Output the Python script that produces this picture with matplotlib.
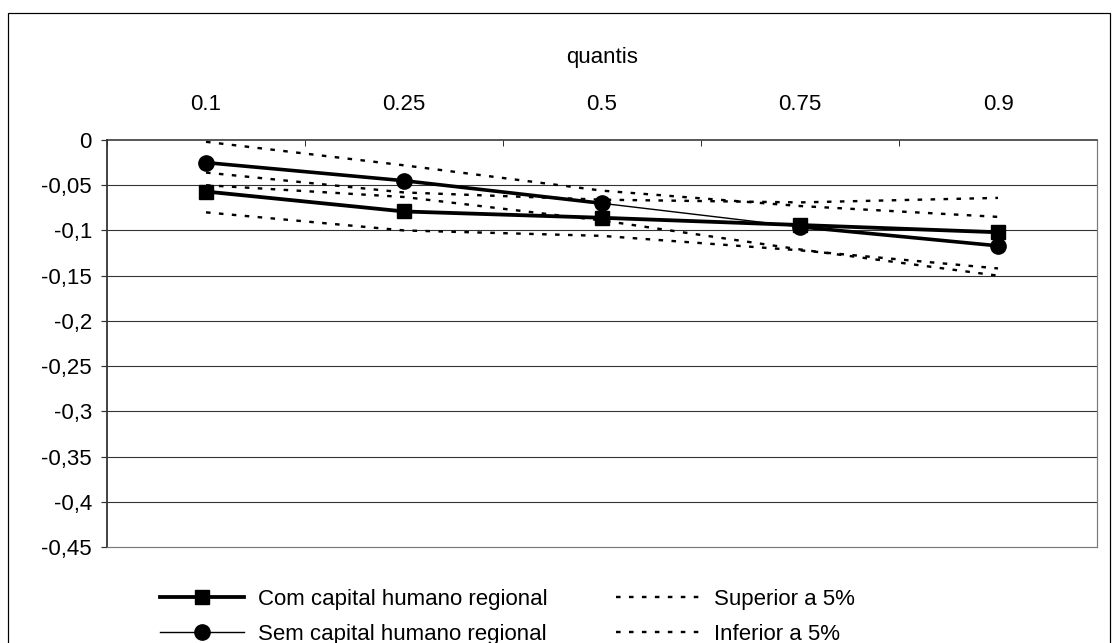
import matplotlib
matplotlib.use("Agg")
import matplotlib.pyplot as plt
from matplotlib.collections import LineCollection
from matplotlib.patches import Rectangle
import numpy as np

plt.rcParams['font.family'] = ['Liberation Sans', 'DejaVu Sans']

# Quantiles on the category axis
quantis = ["0.1", "0.25", "0.5", "0.75", "0.9"]

# Point estimates
com_capital = [-0.057, -0.079, -0.086, -0.094, -0.102]
sem_capital = [-0.025, -0.045, -0.070, -0.096, -0.117]

# 5% confidence bounds
com_superior = [-0.036, -0.058, -0.066, -0.069, -0.064]
com_inferior = [-0.080, -0.100, -0.106, -0.122, -0.142]
sem_superior = [-0.002, -0.028, -0.056, -0.073, -0.085]
sem_inferior = [-0.050, -0.063, -0.089, -0.121, -0.150]

y_ticks = [0, -0.05, -0.1, -0.15, -0.2, -0.25, -0.3, -0.35, -0.4, -0.45]
y_tick_labels = ["0", "-0,05", "-0,1", "-0,15", "-0,2", "-0,25", "-0,3",
                 "-0,35", "-0,4", "-0,45"]

W, H = 1118, 643
fig = plt.figure(figsize=(W / 100, H / 100), dpi=100)
px = 0.72  # points per pixel
FS = 16

def fx(x):
    return x / W

def fy(y):
    return 1 - y / H

ax = fig.add_axes([fx(107), fy(547), fx(1097) - fx(107), fy(140) - fy(547)])

x = np.arange(len(quantis))
ax.set_xlim(-0.5, len(quantis) - 0.5)
ax.set_ylim(-0.45, 0)

# horizontal grid
for yt in y_ticks[1:-1]:
    ax.axhline(yt, color="#333333", lw=1.1 * px, zorder=1)

# confidence bounds (dotted)
dot_lw = 2.4 * px
dot_style = (0, (1.9, 3.5))
ax.plot(x, com_superior, color="black", lw=dot_lw, linestyle=dot_style,
        dash_capstyle="butt", label="Superior a 5%", zorder=2)
ax.plot(x, com_inferior, color="black", lw=dot_lw, linestyle=dot_style,
        dash_capstyle="butt", label="Inferior a 5%", zorder=2)
ax.plot(x, sem_superior, color="black", lw=dot_lw, linestyle=dot_style,
        dash_capstyle="butt", zorder=2)
ax.plot(x, sem_inferior, color="black", lw=dot_lw, linestyle=dot_style,
        dash_capstyle="butt", zorder=2)

# point estimates
ax.plot(x, com_capital, color="black", lw=3.8 * px, marker="s",
        markersize=10.5, label="Com capital humano regional", zorder=4)
ax.plot(x, sem_capital, color="black", lw=1.4 * px, marker="o",
        markersize=11, label="Sem capital humano regional", zorder=4)
pts = np.column_stack([x, sem_capital])
segs = [pts[i:i + 2] for i in (0, 1, 3)]
ax.add_collection(LineCollection(segs, colors="black", linewidths=3.6 * px,
                                 zorder=3, capstyle="butt"))

# axes styling
for side in ("bottom", "right"):
    ax.spines[side].set_color("#7a7a7a")
    ax.spines[side].set_linewidth(1.2 * px)
ax.spines["top"].set_color("#333333")
ax.spines["top"].set_linewidth(1.6 * px)
ax.spines["left"].set_color("#333333")
ax.spines["left"].set_linewidth(1.8 * px)

ax.set_yticks(y_ticks)
ax.set_yticklabels(y_tick_labels)
ax.tick_params(axis="y", direction="out", length=6 * px, width=1.2 * px,
               color="#333333", labelsize=FS, pad=9 * px)

ax.xaxis.tick_top()
ax.xaxis.set_label_position("top")
ax.set_xticks(np.arange(-0.5, len(quantis)), minor=False)
ax.set_xticklabels([])
ax.set_xticks(x, minor=True)
ax.set_xticklabels(quantis, minor=True)
ax.tick_params(axis="x", which="major", direction="in", length=6 * px,
               width=1.0 * px, color="#333333", top=True, bottom=False)
ax.tick_params(axis="x", which="minor", length=0, labelsize=FS,
               pad=25 * px, top=True, bottom=False)
ax.set_xlabel("quantis", fontsize=FS, labelpad=31 * px)

# legend below the plot
handles, labels = ax.get_legend_handles_labels()
order = [2, 3, 0, 1]
leg = fig.legend([handles[i] for i in order], [labels[i] for i in order],
                 loc="upper left", bbox_to_anchor=(fx(160), fy(589)),
                 ncol=2, frameon=False, fontsize=FS, handlelength=3.8,
                 handletextpad=0.6, columnspacing=3.1, labelspacing=0.62,
                 borderpad=0, borderaxespad=0)

# outer frame
fig.patches.append(Rectangle((fx(8), fy(660)), fx(1110) - fx(8),
                             fy(13) - fy(660), transform=fig.transFigure,
                             fill=False, edgecolor="black", lw=1.2 * px))

fig.savefig("out.png", dpi=100)
